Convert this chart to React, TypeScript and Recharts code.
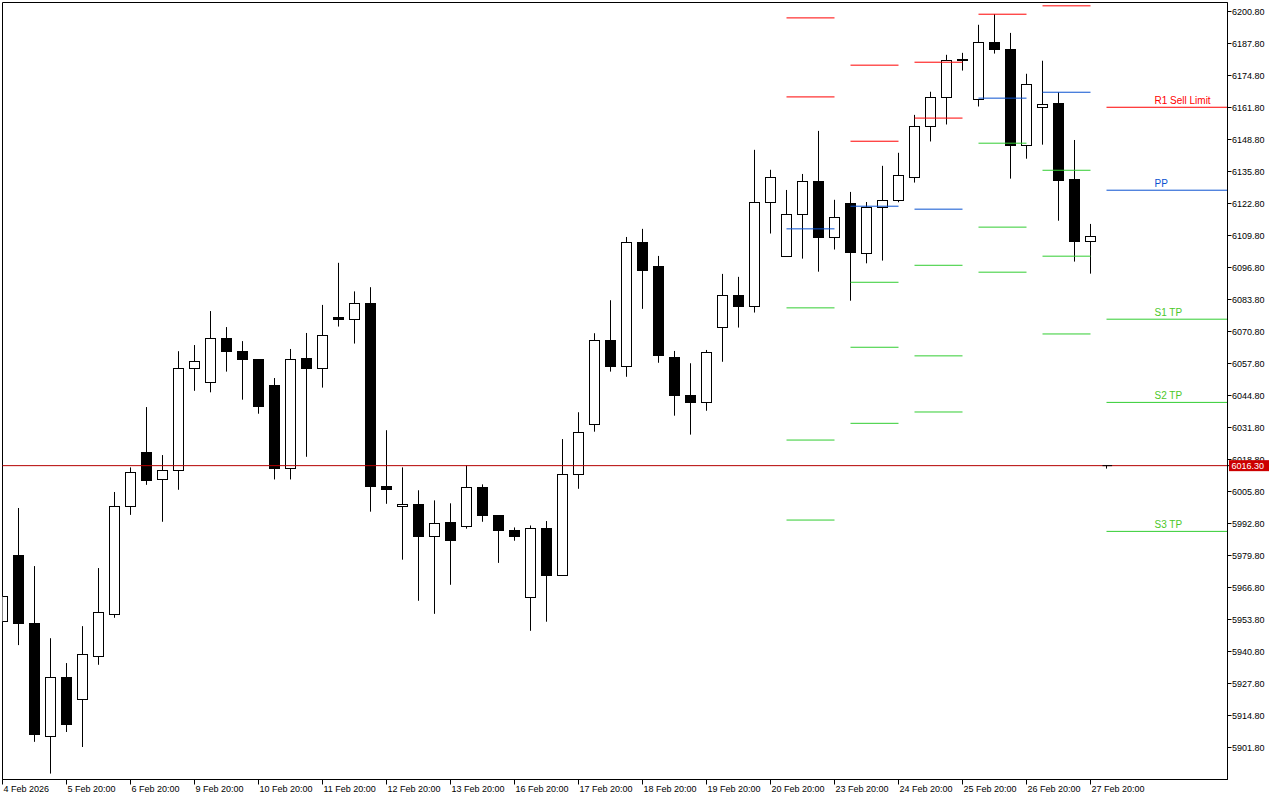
import React from 'react';
import { ComposedChart, Bar, Scatter, XAxis, YAxis, ReferenceLine, ReferenceArea } from 'recharts';

// ---- candle data (one candle per index) ----
const opens = [5953.0, 5979.6, 5952.3, 5906.3, 5930.4, 5921.3, 5938.8, 5955.9, 5999.8, 6021.7, 6010.7, 6014.4, 6055.9, 6050.2, 6068.0, 6062.8, 6059.5, 6048.9, 6015.2, 6059.9, 6055.9, 6076.4, 6075.8, 6082.3, 6007.9, 5999.8, 6000.6, 5987.4, 5993.3, 5991.5, 6007.5, 5996.1, 5990.0, 5962.8, 5990.8, 5971.6, 6012.8, 6033.1, 6067.2, 6056.5, 6107.1, 6097.3, 6060.3, 6044.9, 6042.0, 6072.5, 6085.5, 6081.1, 6123.3, 6101.4, 6118.4, 6131.9, 6109.1, 6122.6, 6102.6, 6121.3, 6124.1, 6133.5, 6154.2, 6166.0, 6181.5, 6165.2, 6188.4, 6185.5, 6146.3, 6161.9, 6163.3, 6132.4, 6107.5];
const highs = [5964.9, 5999.1, 5975.5, 5946.2, 5936.1, 5951.1, 5974.7, 6005.6, 6015.6, 6040.1, 6020.6, 6062.8, 6065.3, 6079.1, 6072.6, 6066.9, 6059.5, 6051.9, 6063.7, 6070.2, 6081.6, 6098.7, 6087.1, 6088.8, 6030.7, 6015.6, 6006.3, 6002.2, 6001.0, 6016.4, 6008.7, 5996.1, 5991.2, 5992.0, 5993.8, 6027.1, 6038.0, 6070.1, 6083.5, 6109.2, 6112.5, 6101.5, 6062.9, 6057.9, 6063.3, 6094.2, 6093.0, 6144.6, 6136.5, 6128.3, 6134.8, 6152.3, 6124.3, 6127.5, 6123.4, 6138.1, 6143.4, 6158.8, 6168.2, 6183.2, 6184.0, 6195.4, 6199.7, 6192.1, 6175.5, 6180.8, 6168.0, 6148.6, 6114.5];
const lows = [5950.3, 5943.4, 5904.1, 5891.2, 5908.1, 5902.0, 5935.4, 5954.5, 5996.3, 6008.5, 5993.5, 6006.5, 6046.7, 6046.1, 6054.5, 6043.1, 6037.4, 6010.7, 6010.7, 6019.9, 6048.0, 6072.8, 6065.9, 5997.6, 6000.8, 5978.1, 5961.4, 5956.1, 5967.9, 5990.7, 5993.5, 5976.8, 5985.8, 5949.2, 5952.9, 5971.6, 6006.9, 6030.1, 6054.5, 6052.4, 6080.0, 6058.1, 6036.6, 6028.9, 6038.6, 6058.5, 6072.4, 6078.5, 6110.6, 6101.4, 6100.4, 6095.1, 6104.1, 6083.3, 6098.5, 6099.6, 6123.3, 6131.3, 6148.0, 6154.9, 6176.8, 6162.2, 6183.7, 6132.9, 6141.0, 6146.7, 6115.8, 6099.2, 6094.3];
const closes = [5963.2, 5952.0, 5906.9, 5930.4, 5911.0, 5939.6, 5956.7, 5999.8, 6013.6, 6010.4, 6014.4, 6055.9, 6058.7, 6068.0, 6062.6, 6059.3, 6040.2, 6015.0, 6059.5, 6055.7, 6069.3, 6075.8, 6082.3, 6007.7, 6006.7, 6000.6, 5987.4, 5992.8, 5985.8, 6007.5, 5995.9, 5989.8, 5987.4, 5990.8, 5971.6, 6012.8, 6029.8, 6067.2, 6056.5, 6107.1, 6095.5, 6061.0, 6044.7, 6042.0, 6062.4, 6085.5, 6080.9, 6123.3, 6133.5, 6118.4, 6131.9, 6108.9, 6117.2, 6102.8, 6121.3, 6124.1, 6134.3, 6154.2, 6166.0, 6181.0, 6181.0, 6188.4, 6185.4, 6146.3, 6171.3, 6163.2, 6132.1, 6107.3, 6109.5];

// ---- axis labels ----
const xTickLabels = ['4 Feb 2026', '5 Feb 20:00', '6 Feb 20:00', '9 Feb 20:00', '10 Feb 20:00', '11 Feb 20:00', '12 Feb 20:00', '13 Feb 20:00', '16 Feb 20:00', '17 Feb 20:00', '18 Feb 20:00', '19 Feb 20:00', '20 Feb 20:00', '23 Feb 20:00', '24 Feb 20:00', '25 Feb 20:00', '26 Feb 20:00', '27 Feb 20:00'];
const xTickValues = [0, 4, 8, 12, 16, 20, 24, 28, 32, 36, 40, 44, 48, 52, 56, 60, 64, 68];
const yTickValues = [6200.8, 6187.8, 6174.8, 6161.8, 6148.8, 6135.8, 6122.8, 6109.8, 6096.8, 6083.8, 6070.8, 6057.8, 6044.8, 6031.8, 6018.8, 6005.8, 5992.8, 5979.8, 5966.8, 5953.8, 5940.8, 5927.8, 5914.8, 5901.8];
const lastPrice = 6016.3;

// ---- daily pivot levels (per day block) ----
const pivotFrom = [49, 53, 57, 61, 65, 69];
const pivotTo = [52, 56, 60, 64, 68, 76.5625];
const r2Levels = [6198.2, 6179.0, 6180.2, null, null, null];
const r1Levels = [6166.1, 6148.1, 6157.5, 6199.7, 6203.1, 6161.9];
const ppLevels = [6112.5, 6121.7, 6120.5, 6165.6, 6168.0, 6128.2];
const s1Levels = [6080.4, 6090.8, 6097.7, 6147.3, 6136.3, 6075.8];
const s2Levels = [6026.7, 6064.4, 6060.9, 6113.2, 6101.4, 6042.0];
const s3Levels = [5994.2, 6033.5, 6038.1, 6094.9, 6069.8, 5989.6];
const pivotLabelIdx = 72;
const pivotLabelNames = ['R1 Sell Limit', 'PP', 'S1 TP', 'S2 TP', 'S3 TP'];

const X_MIN = 0;
const X_MAX = 76.5625;
const Y_MIN = 5888.8;
const Y_MAX = 6204.45625;

const RED = '#FF0000';
const BLUE = '#0A52D0';
const GREEN = '#32CD32';
const FONT = '"Liberation Sans", Arial, sans-serif';

const candles = opens.map((o, i) => ({ idx: i, open: o, high: highs[i], low: lows[i], close: closes[i] }));

const last = r1Levels.length - 1;
const pivotLabels = [
  { idx: pivotLabelIdx, price: r1Levels[last], text: pivotLabelNames[0], color: RED },
  { idx: pivotLabelIdx, price: ppLevels[last], text: pivotLabelNames[1], color: BLUE },
  { idx: pivotLabelIdx, price: s1Levels[last], text: pivotLabelNames[2], color: '#4CC82A' },
  { idx: pivotLabelIdx, price: s2Levels[last], text: pivotLabelNames[3], color: '#4CC82A' },
  { idx: pivotLabelIdx, price: s3Levels[last], text: pivotLabelNames[4], color: '#4CC82A' },
];

const CandleShape = (props: any) => {
  const { x, y, width, height, payload } = props;
  if (x == null || y == null || !payload) return null;
  const { open, close, high, low } = payload;
  const yTop = Math.min(y, y + height);
  const h = Math.abs(height);
  const k = high - low > 0 ? h / (high - low) : 0;
  const cx = Math.round(x + width / 2 - 0.5) + 0.5;
  const yO = yTop + (high - open) * k;
  const yC = yTop + (high - close) * k;
  const top = Math.floor(Math.min(yO, yC)) + 0.5;
  let bot = Math.floor(Math.max(yO, yC)) + 0.5;
  if (bot - top < 1) bot = top + 1;
  const bull = close >= open;
  return (
    <g>
      <line x1={cx} x2={cx} y1={yTop} y2={yTop + h} stroke="#000" strokeWidth={1} />
      <rect x={cx - 5} y={top} width={10} height={bot - top} fill={bull ? '#fff' : '#000'} stroke="#000" strokeWidth={1} />
    </g>
  );
};

const LabelShape = (props: any) => {
  const { cx, cy, payload } = props;
  if (cx == null || cy == null || !payload) return null;
  return (
    <text x={cx} y={cy - 3.5} fill={payload.color} fontSize={10} fontFamily={FONT}>
      {payload.text}
    </text>
  );
};

const YTick = (props: any) => {
  const { x, y, payload } = props;
  const v = payload.value;
  if (Math.abs(v - lastPrice) < 0.001) {
    return (
      <g>
        <rect x={x - 3.5} y={y - 5.5} width={40} height={11} fill="#CC0000" />
        <text x={x - 1} y={y + 3.5} fill="#fff" fontSize={9} fontFamily={FONT}>
          {v.toFixed(2)}
        </text>
      </g>
    );
  }
  return (
    <text x={x - 0.5} y={y + 3.3} fill="#000" fontSize={9} fontFamily={FONT}>
      {v.toFixed(2)}
    </text>
  );
};

const XTick = (props: any) => {
  const { x, y, payload } = props;
  const i = xTickValues.indexOf(payload.value);
  return (
    <text x={x + 1} y={y + 5} fill="#000" fontSize={9} fontFamily={FONT}>
      {i >= 0 ? xTickLabels[i] : ''}
    </text>
  );
};

const levelSets: { levels: (number | null)[]; color: string }[] = [
  { levels: r2Levels, color: RED },
  { levels: r1Levels, color: RED },
  { levels: ppLevels, color: BLUE },
  { levels: s1Levels, color: GREEN },
  { levels: s2Levels, color: GREEN },
  { levels: s3Levels, color: GREEN },
];

export default function App() {
  const pivotLines: React.ReactNode[] = [];
  levelSets.forEach((set, si) => {
    set.levels.forEach((lv, di) => {
      if (lv == null) return;
      pivotLines.push(
        <ReferenceLine
          key={`pv-${si}-${di}`}
          segment={[{ x: pivotFrom[di], y: lv }, { x: pivotTo[di], y: lv }]}
          stroke={set.color}
          strokeWidth={1}
          ifOverflow="visible"
        />
      );
    });
  });

  return (
    <div style={{ position: 'absolute', left: 0, top: 0, width: 1280, height: 800, background: '#fff' }}>
      <ComposedChart
        width={1280}
        height={800}
        data={candles}
        margin={{ top: 2.5, right: 0, bottom: 0, left: 2.5 }}
      >
        <XAxis
          dataKey="idx"
          type="number"
          domain={[X_MIN, X_MAX]}
          allowDataOverflow
          ticks={xTickValues}
          interval={0}
          height={20.5}
          tickSize={5}
          tickMargin={2}
          stroke="#000"
          tickLine={{ stroke: '#000' }}
          tick={<XTick />}
        />
        <YAxis
          type="number"
          orientation="right"
          domain={[Y_MIN, Y_MAX]}
          allowDataOverflow
          ticks={[...yTickValues, lastPrice]}
          interval={0}
          width={52.5}
          tickSize={4}
          tickMargin={1}
          stroke="#000"
          tickLine={{ stroke: '#000' }}
          tick={<YTick />}
        />
        <ReferenceLine y={lastPrice} stroke="#B40000" strokeWidth={1} />
        <Bar
          dataKey={(d: any) => [d.low, d.high]}
          barSize={12}
          shape={<CandleShape />}
          isAnimationActive={false}
        />
        {pivotLines}
        <ReferenceLine
          segment={[{ x: 68.75, y: lastPrice }, { x: 69.35, y: lastPrice }]}
          stroke="#000"
          ifOverflow="visible"
        />
        <ReferenceLine
          segment={[{ x: 69, y: lastPrice }, { x: 69, y: 6015.1 }]}
          stroke="#000"
          ifOverflow="visible"
        />
        <Scatter data={pivotLabels} dataKey="price" shape={<LabelShape />} isAnimationActive={false} />
        <ReferenceArea x1={X_MIN} x2={X_MAX} y1={Y_MIN} y2={Y_MAX} fill="none" stroke="#000" strokeWidth={1} ifOverflow="visible" />
      </ComposedChart>
    </div>
  );
}
